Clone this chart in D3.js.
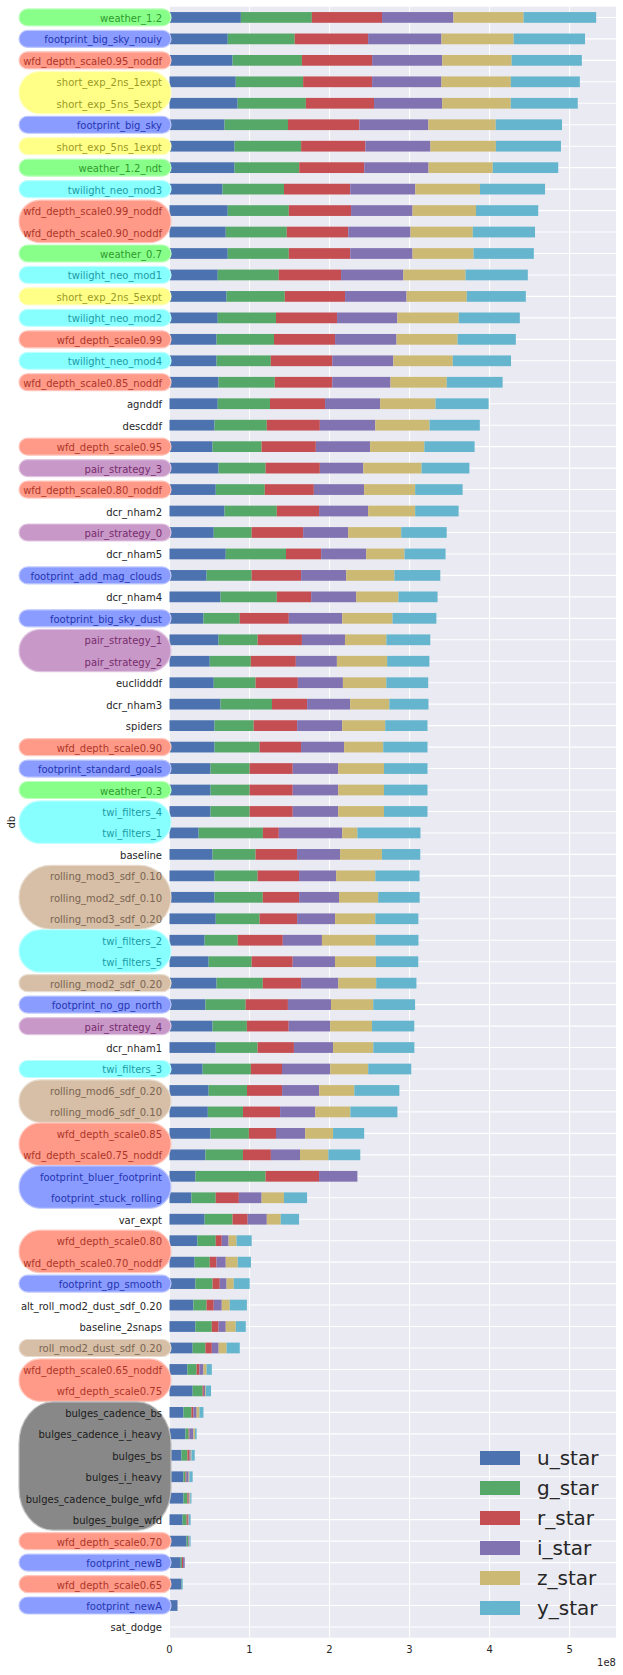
<!DOCTYPE html>
<html>
<head>
<meta charset="utf-8">
<script src="https://cdn.jsdelivr.net/npm/d3@7"></script>
<style>
  html, body { margin: 0; padding: 0; background: #ffffff; }
  svg { display: block; font-family: "DejaVu Sans", sans-serif; }
</style>
</head>
<body>
<svg id="chart" width="623" height="1675"></svg>
<script>
// ---------------- DATA (values in units of 1e8) ----------------
const categories = [
  "weather_1.2","footprint_big_sky_nouiy","wfd_depth_scale0.95_noddf","short_exp_2ns_1expt","short_exp_5ns_5expt",
  "footprint_big_sky","short_exp_5ns_1expt","weather_1.2_ndt","twilight_neo_mod3","wfd_depth_scale0.99_noddf",
  "wfd_depth_scale0.90_noddf","weather_0.7","twilight_neo_mod1","short_exp_2ns_5expt","twilight_neo_mod2",
  "wfd_depth_scale0.99","twilight_neo_mod4","wfd_depth_scale0.85_noddf","agnddf","descddf",
  "wfd_depth_scale0.95","pair_strategy_3","wfd_depth_scale0.80_noddf","dcr_nham2","pair_strategy_0",
  "dcr_nham5","footprint_add_mag_clouds","dcr_nham4","footprint_big_sky_dust","pair_strategy_1",
  "pair_strategy_2","euclidddf","dcr_nham3","spiders","wfd_depth_scale0.90",
  "footprint_standard_goals","weather_0.3","twi_filters_4","twi_filters_1","baseline",
  "rolling_mod3_sdf_0.10","rolling_mod2_sdf_0.10","rolling_mod3_sdf_0.20","twi_filters_2","twi_filters_5",
  "rolling_mod2_sdf_0.20","footprint_no_gp_north","pair_strategy_4","dcr_nham1","twi_filters_3",
  "rolling_mod6_sdf_0.20","rolling_mod6_sdf_0.10","wfd_depth_scale0.85","wfd_depth_scale0.75_noddf","footprint_bluer_footprint",
  "footprint_stuck_rolling","var_expt","wfd_depth_scale0.80","wfd_depth_scale0.70_noddf","footprint_gp_smooth",
  "alt_roll_mod2_dust_sdf_0.20","baseline_2snaps","roll_mod2_dust_sdf_0.20","wfd_depth_scale0.65_noddf","wfd_depth_scale0.75",
  "bulges_cadence_bs","bulges_cadence_i_heavy","bulges_bs","bulges_i_heavy","bulges_cadence_bulge_wfd",
  "bulges_bulge_wfd","wfd_depth_scale0.70","footprint_newB","wfd_depth_scale0.65","footprint_newA",
  "sat_dodge"
];

const u_star = [
  0.892,0.728,0.788,0.828,0.852, 0.688,0.813,0.813,0.663,0.728,
  0.703,0.728,0.603,0.713,0.603, 0.588,0.588,0.613,0.603,0.563,
  0.538,0.613,0.578,0.688,0.553, 0.703,0.464,0.638,0.424,0.613,
  0.503,0.553,0.638,0.563,0.563, 0.513,0.513,0.513,0.364,0.538,
  0.563,0.563,0.578,0.439,0.489, 0.588,0.449,0.538,0.578,0.414,
  0.489,0.479,0.513,0.449,0.324, 0.274,0.439,0.349,0.314,0.324,
  0.299,0.324,0.289,0.224,0.289, 0.174,0.199,0.150,0.174,0.174,
  0.164,0.214,0.140,0.150,0.100, 0
];
const g_star = [
  0.887,0.837,0.867,0.842,0.852, 0.793,0.832,0.808,0.768,0.763,
  0.763,0.763,0.763,0.728,0.728, 0.718,0.678,0.703,0.653,0.653,
  0.613,0.588,0.613,0.653,0.474, 0.753,0.563,0.703,0.454,0.489,
  0.513,0.523,0.643,0.489,0.563, 0.489,0.489,0.489,0.803,0.538,
  0.538,0.603,0.548,0.414,0.538, 0.578,0.503,0.429,0.523,0.603,
  0.479,0.439,0.479,0.469,0.877, 0.304,0.349,0.229,0.189,0.214,
  0.164,0.204,0.160,0.115,0.125, 0.100,0.040,0.075,0.025,0.050,
  0.050,0.020,0.015,0.005,0, 0
];
const r_star = [
  0.877,0.917,0.877,0.862,0.852, 0.892,0.803,0.813,0.828,0.778,
  0.768,0.768,0.778,0.753,0.763, 0.763,0.768,0.718,0.688,0.663,
  0.678,0.678,0.613,0.528,0.643, 0.439,0.618,0.429,0.613,0.553,
  0.563,0.528,0.439,0.543,0.518, 0.538,0.538,0.538,0.199,0.518,
  0.518,0.454,0.469,0.563,0.513, 0.479,0.528,0.523,0.454,0.389,
  0.439,0.464,0.339,0.349,0.668, 0.289,0.189,0.075,0.085,0.090,
  0.090,0.085,0.080,0.035,0.015, 0.025,0.010,0.025,0.010,0.015,
  0.015,0.005,0.015,0,0, 0
];
const i_star = [
  0.892,0.917,0.877,0.867,0.852, 0.862,0.813,0.803,0.813,0.768,
  0.778,0.778,0.778,0.768,0.753, 0.768,0.763,0.728,0.688,0.693,
  0.678,0.543,0.628,0.613,0.563, 0.563,0.563,0.563,0.668,0.538,
  0.513,0.563,0.538,0.563,0.538, 0.568,0.568,0.568,0.793,0.538,
  0.464,0.499,0.474,0.489,0.528, 0.464,0.538,0.518,0.489,0.603,
  0.464,0.439,0.364,0.364,0.479, 0.284,0.239,0.085,0.115,0.085,
  0.100,0.090,0.085,0.050,0.015, 0.040,0.050,0.015,0.030,0.010,
  0.010,0.005,0.020,0,0, 0
];
const z_star = [
  0.877,0.902,0.867,0.867,0.857, 0.842,0.818,0.803,0.808,0.793,
  0.778,0.763,0.778,0.753,0.768, 0.763,0.743,0.703,0.693,0.678,
  0.678,0.728,0.638,0.588,0.663, 0.479,0.603,0.528,0.628,0.518,
  0.628,0.543,0.489,0.538,0.489, 0.573,0.573,0.573,0.189,0.523,
  0.489,0.489,0.503,0.668,0.513, 0.474,0.528,0.523,0.503,0.474,
  0.439,0.439,0.349,0.354,0, 0.279,0.174,0.100,0.150,0.090,
  0.100,0.125,0.100,0.040,0.010, 0.035,0.020,0.010,0.010,0.010,
  0.005,0.005,0,0,0, 0
];
const y_star = [
  0.907,0.892,0.877,0.862,0.837, 0.828,0.813,0.818,0.813,0.778,
  0.778,0.753,0.778,0.738,0.763, 0.728,0.728,0.698,0.663,0.628,
  0.628,0.598,0.593,0.543,0.568, 0.513,0.573,0.489,0.548,0.548,
  0.528,0.523,0.489,0.528,0.553, 0.543,0.543,0.543,0.788,0.479,
  0.553,0.518,0.538,0.538,0.528, 0.503,0.523,0.528,0.513,0.538,
  0.563,0.588,0.389,0.399,0, 0.289,0.229,0.189,0.165,0.199,
  0.214,0.125,0.164,0.065,0.065, 0.050,0.020,0.040,0.040,0.015,
  0.020,0.015,0,0.010,0, 0
];

const seriesNames = ["u_star","g_star","r_star","i_star","z_star","y_star"];
const seriesValues = [u_star, g_star, r_star, i_star, z_star, y_star];
const xTickValues = [0, 1, 2, 3, 4, 5];
const xOffsetLabel = "1e8";
const yAxisLabel = "db";

// label highlight groups by name prefix
const labelGroupRules = [
  { test: /^weather/, key: "green" },
  { test: /^footprint/, key: "blue" },
  { test: /^wfd_depth/, key: "salmon" },
  { test: /^short_exp/, key: "yellow" },
  { test: /^twi/, key: "cyan" },
  { test: /^pair_strategy/, key: "purple" },
  { test: /^(rolling_|roll_)/, key: "tan" },
  { test: /^bulges/, key: "gray" }
];

// ---------------- STYLE ----------------
const palette = ["#4C72B0","#55A868","#C44E52","#8172B2","#CCB974","#64B5CD"];
const groupStyle = {
  green:  { fill: "#88ff88", text: "#2f9a2f" },
  blue:   { fill: "#8a9cff", text: "#2535b0" },
  salmon: { fill: "#ff9a88", text: "#ad3628" },
  yellow: { fill: "#ffff88", text: "#9a9a24" },
  cyan:   { fill: "#88ffff", text: "#209ca6" },
  purple: { fill: "#c898c8", text: "#772c6c" },
  tan:    { fill: "#d6bfa6", text: "#7a6452" },
  gray:   { fill: "#888888", text: "#1c1c1c" }
};

const W = 623, H = 1675;
const plot = { left: 169.5, right: 616, top: 6.7, bottom: 1637.7 };
const textColor = "#262626";

// ---------------- BUILD ----------------
const table = categories.map((c, k) => {
  const row = { db: c };
  seriesNames.forEach((s, j) => row[s] = seriesValues[j][k]);
  return row;
});
const stacked = d3.stack().keys(seriesNames)(table);

const svg = d3.select("#chart");
svg.append("rect").attr("x",0).attr("y",0).attr("width",W).attr("height",H).attr("fill","#ffffff");

const x = d3.scaleLinear().domain([0, 5.58]).range([plot.left, plot.right]);
const y = d3.scaleBand().domain(categories).range([plot.top, plot.bottom])
  .paddingInner(0.5).paddingOuter(0.25);
const yc = c => y(c) + y.bandwidth() / 2;

// background
svg.append("rect")
  .attr("x", plot.left).attr("y", plot.top)
  .attr("width", plot.right - plot.left).attr("height", plot.bottom - plot.top)
  .attr("fill", "#EAEAF2");

// grid
const grid = svg.append("g").attr("stroke", "#ffffff").attr("stroke-width", 1.1);
grid.selectAll("line.v").data(xTickValues).join("line")
  .attr("x1", d => x(d)).attr("x2", d => x(d))
  .attr("y1", plot.top).attr("y2", plot.bottom);
grid.selectAll("line.h").data(categories).join("line")
  .attr("x1", plot.left).attr("x2", plot.right)
  .attr("y1", d => yc(d)).attr("y2", d => yc(d));

// bars
const layers = svg.append("g").selectAll("g").data(stacked).join("g")
  .attr("fill", (d, j) => palette[j]);
layers.selectAll("rect").data(d => d.map(p => ({ p, cat: p.data.db })))
  .join("rect")
  .attr("x", d => x(d.p[0]))
  .attr("width", d => Math.max(0, x(d.p[1]) - x(d.p[0])))
  .attr("y", d => y(d.cat))
  .attr("height", y.bandwidth());

// label group boxes: merge consecutive labels of same group
const groupOf = c => { const r = labelGroupRules.find(r => r.test.test(c)); return r ? r.key : null; };
const runs = [];
categories.forEach((c, k) => {
  const g = groupOf(c);
  if (!g) return;
  const last = runs[runs.length - 1];
  if (last && last.key === g && last.end === k - 1) last.end = k;
  else runs.push({ key: g, start: k, end: k });
});
const boxLayer = svg.append("g");
runs.forEach(r => {
  const single = r.start === r.end;
  const pad = single ? 8.5 : 10.5;
  const y0 = yc(categories[r.start]) - pad;
  const y1 = yc(categories[r.end]) + pad;
  const h = y1 - y0;
  const st = groupStyle[r.key];
  boxLayer.append("rect")
    .attr("x", 19).attr("y", y0)
    .attr("width", 171 - 19).attr("height", h)
    .attr("rx", Math.min(h / 2, 34)).attr("ry", Math.min(h / 2, 42))
    .attr("fill", st.fill)
    .attr("stroke", d3.interpolateRgb(st.fill, "#ffffff")(0.45))
    .attr("stroke-width", 1.2);
});

// y tick labels
svg.append("g").selectAll("text").data(categories).join("text")
  .attr("x", 162).attr("y", d => yc(d) + 1)
  .attr("text-anchor", "end").attr("dominant-baseline", "central")
  .attr("font-size", 10)
  .attr("fill", d => { const g = groupOf(d); return g ? groupStyle[g].text : textColor; })
  .text(d => d);

// x tick labels
svg.append("g").selectAll("text").data(xTickValues).join("text")
  .attr("x", d => x(d)).attr("y", 1649)
  .attr("text-anchor", "middle").attr("dominant-baseline", "central")
  .attr("font-size", 10).attr("fill", textColor)
  .text(d => d3.format("d")(d));
svg.append("text")
  .attr("x", plot.right).attr("y", 1662)
  .attr("text-anchor", "end").attr("dominant-baseline", "central")
  .attr("font-size", 10).attr("fill", textColor)
  .text(xOffsetLabel);

// y axis label
svg.append("text")
  .attr("transform", `translate(11, ${(plot.top + plot.bottom) / 2}) rotate(-90)`)
  .attr("text-anchor", "middle").attr("dominant-baseline", "central")
  .attr("font-size", 10).attr("fill", textColor)
  .text(yAxisLabel);

// legend
const legend = svg.append("g").attr("transform", "translate(480, 1458)");
const li = legend.selectAll("g").data(seriesNames).join("g")
  .attr("transform", (d, j) => `translate(0, ${j * 30})`);
li.append("rect").attr("x", 0).attr("y", -7).attr("width", 40).attr("height", 14)
  .attr("fill", (d, j) => palette[j]);
li.append("text").attr("x", 57).attr("y", 0)
  .attr("dominant-baseline", "central")
  .attr("font-size", 20).attr("fill", textColor)
  .text(d => d);
</script>
</body>
</html>
